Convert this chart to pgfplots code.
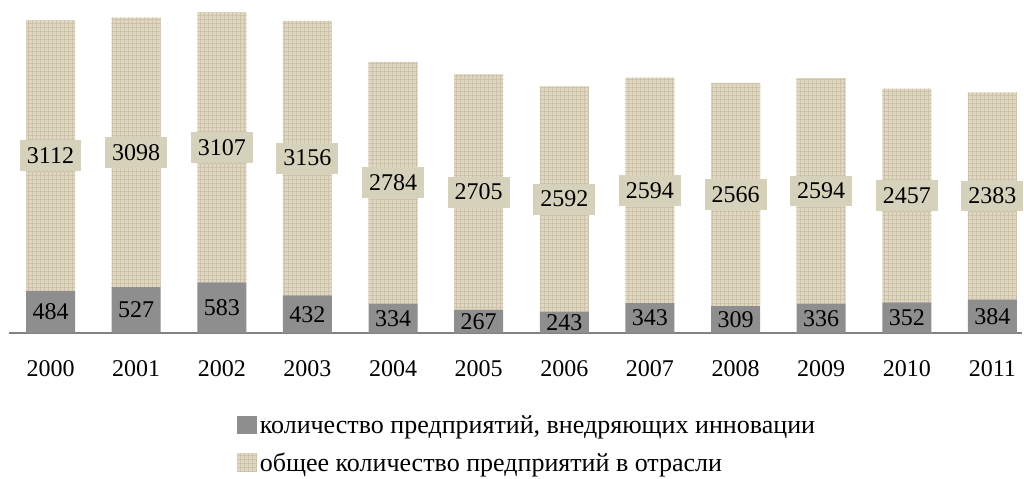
\documentclass[border=0pt]{standalone}
\usepackage{fontspec}
\setmainfont{Liberation Serif}
\usepackage{pgfplots}
\pgfplotsset{compat=1.18}
\usetikzlibrary{patterns}
\definecolor{innov}{RGB}{142,142,142}
\definecolor{burlap}{RGB}{224,215,194}
\definecolor{burlapline}{RGB}{205,194,170}
\definecolor{labelbox}{RGB}{214,209,186}
\definecolor{axisgray}{RGB}{130,130,130}
\begin{document}
\begin{tikzpicture}
\begin{axis}[
  scale only axis,
  width=759.75pt, height=249.75pt,
  ybar stacked, bar width=36.75pt,
  xmin=-0.485, xmax=11.345, ymin=0, ymax=3828,
  clip=false,
  axis x line=bottom, axis line style={-, draw=axisgray, line width=0.9pt},
  hide y axis,
  xtick=data,
  xticklabels={2000,2001,2002,2003,2004,2005,2006,2007,2008,2009,2010,2011},
  major tick length=0pt,
  xticklabel style={font=\fontsize{18}{20}\selectfont, yshift=-17pt},
  /pgf/number format/assume math mode=true,
  /pgf/number format/1000 sep={},
  nodes near coords,
  every node near coord/.append style={anchor=center, font=\fontsize{18}{20}\selectfont},
  legend style={at={(0.221,-0.232)}, anchor=north west, draw=none, fill=none,
     font=\fontsize{19.5}{21}\selectfont, row sep=9pt,
     /tikz/every even column/.append style={column sep=2pt}},
  legend cell align=left,
  area legend,
  legend image code/.code={\path[#1] (-2pt,-6.5pt) rectangle (13pt,7.5pt);},
]
\addplot[fill=innov, draw=none,
  every node near coord/.append style={fill=none, inner sep=2pt}]
  coordinates {(0,484) (1,527) (2,583) (3,432) (4,334) (5,267) (6,243) (7,343) (8,309) (9,336) (10,352) (11,384)};
\addlegendentry{количество предприятий, внедряющих инновации}
\addplot[fill=burlap, draw=none, postaction={pattern=grid, pattern color=burlapline},
  every node near coord/.append style={fill=labelbox, inner xsep=5.25pt, inner ysep=5.5pt}]
  coordinates {(0,3112) (1,3098) (2,3107) (3,3156) (4,2784) (5,2705) (6,2592) (7,2594) (8,2566) (9,2594) (10,2457) (11,2383)};
\addlegendentry{общее количество предприятий в отрасли}
\path (rel axis cs:-0.00888,1) rectangle (rel axis cs:1.002,-0.4354);
\end{axis}
\end{tikzpicture}
\end{document}
